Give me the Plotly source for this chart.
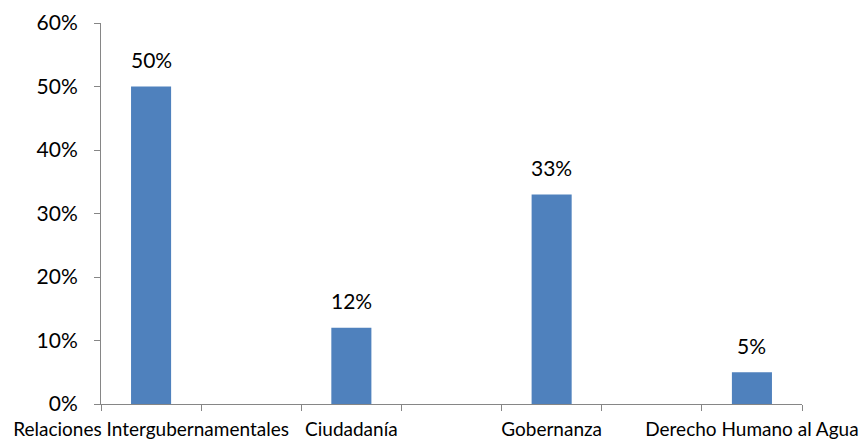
import plotly.graph_objects as go

# Category slots along the x axis (blank slots keep the gaps between bars)
categories = ["Relaciones Intergubernamentales", " ", "Ciudadanía", "  ",
              "Gobernanza", "   ", "Derecho Humano al Agua"]
bar_categories = ["Relaciones Intergubernamentales", "Ciudadanía",
                  "Gobernanza", "Derecho Humano al Agua"]
shares = [0.50, 0.12, 0.33, 0.05]
y_ticks = [0, 0.1, 0.2, 0.3, 0.4, 0.5, 0.6]

BAR_COLOR = "#4F81BD"
AXIS_COLOR = "#868686"
FONT = "Lato"

fig = go.Figure(
    go.Bar(
        x=bar_categories,
        y=shares,
        width=0.4,
        marker=dict(color=BAR_COLOR, line=dict(width=0)),
        hoverinfo="skip",
    )
)

# Value labels above each bar
for cat, val in zip(bar_categories, shares):
    fig.add_annotation(
        x=cat, y=val, text=f"{val:.0%}", showarrow=False,
        yanchor="middle", yshift=27,
        font=dict(family=FONT, size=21, color="#000000"),
    )

fig.update_layout(
    width=859, height=441,
    margin=dict(l=101, r=57, t=23, b=37),
    paper_bgcolor="white", plot_bgcolor="white",
    showlegend=False,
    font=dict(family=FONT, color="#000000"),
    xaxis=dict(
        type="category",
        categoryorder="array", categoryarray=categories,
        range=[-0.5, 6.5],
        tickson="boundaries",
        ticks="outside", ticklen=6, tickcolor=AXIS_COLOR, tickwidth=1,
        showline=True, linecolor=AXIS_COLOR, linewidth=1,
        showgrid=False, zeroline=False,
        tickfont=dict(family=FONT, size=19),
        tickangle=0,
        ticklabelstandoff=8,
        automargin=False,
    ),
    yaxis=dict(
        range=[0, 0.6],
        tickvals=y_ticks, tickformat=".0%",
        ticks="outside", ticklen=6, tickcolor=AXIS_COLOR, tickwidth=1,
        showline=True, linecolor=AXIS_COLOR, linewidth=1,
        showgrid=False, zeroline=False,
        tickfont=dict(family=FONT, size=21),
        ticklabelstandoff=12,
        automargin=False,
    ),
)

fig.write_html("out.html")
